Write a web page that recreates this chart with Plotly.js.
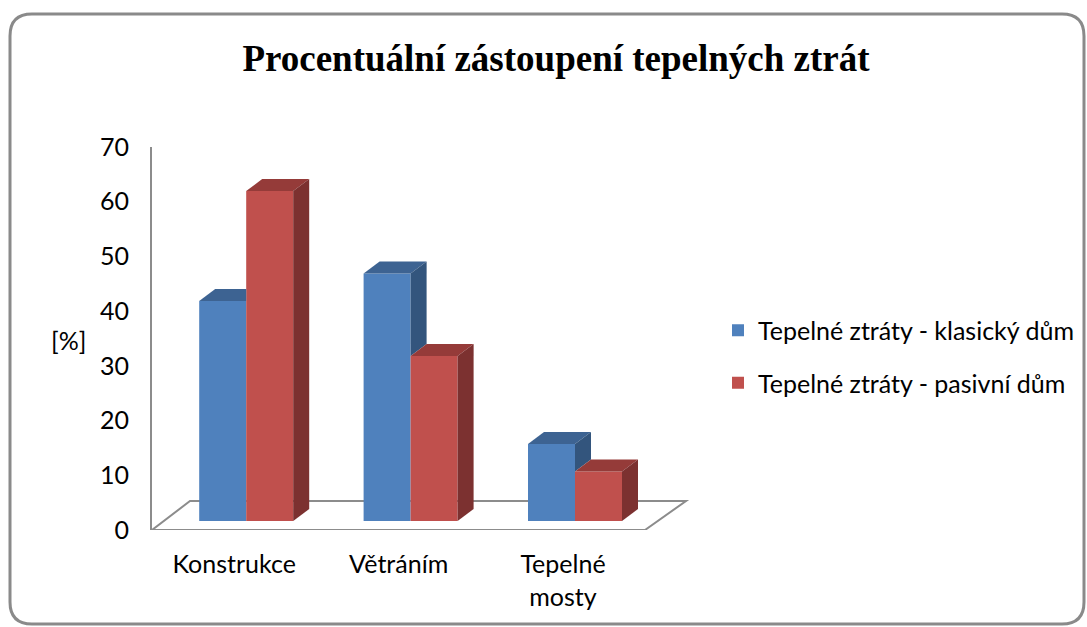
<!DOCTYPE html>
<html>
<head>
<meta charset="utf-8">
<script src="https://cdn.plot.ly/plotly-3.0.1.min.js"></script>
<style>
  html, body { margin: 0; padding: 0; background: #ffffff; }
  #chart { width: 1087px; height: 627px; }
</style>
</head>
<body>
<div id="chart"></div>
<script>
// ---- Data ----
const categories = ["Konstrukce", "Větráním", "Tepelné mosty"];
const tickLabels = ["Konstrukce", "Větráním", "Tepelné<br>mosty"];
const seriesNames = ["Tepelné ztráty - klasický dům", "Tepelné ztráty - pasivní dům"];
const klasicky = [40, 45, 14];
const pasivni = [60, 30, 9];
const yTicks = [0, 10, 20, 30, 40, 50, 60, 70];
const yTitle = "[%]";
const chartTitle = "Procentuální zástoupení tepelných ztrát";

// ---- Style / geometry ----
const W = 1087, H = 627;
const M = { l: 152, r: 387, t: 147, b: 97 };
const plotW = W - M.l - M.r;          // 548
const plotH = H - M.t - M.b;          // 383
const catPx = 164.4;                  // pixels per category
const xSpan = plotW / catPx;
const barPxScale = 5.5;               // px per unit for bars (front plane)
const bar0Px = 9;                     // bars' base sits 9px above axis bottom
const groupW = 94 / catPx;
const barW = groupW / 2;
const DX = 16 / catPx;                // depth offset in x units
const DY = 12 / barPxScale;           // depth offset in y2 units
const barOffsetPx = 12;               // perspective shift of bars vs labels

const frontColors = ["#4F81BD", "#C0504D"];
const topColors = ["#3D6392", "#953B39"];
const sideColors = ["#33557D", "#7C3130"];
const fontFam = "Lato, 'Open Sans', sans-serif";

const series = [klasicky, pasivni];
const idx = categories.map((c, i) => i);

const traces = [];
series.forEach((vals, j) => {
  traces.push({
    type: "bar",
    name: seriesNames[j],
    x: idx,
    y: vals,
    xaxis: "x2",
    yaxis: "y2",
    legendgroup: "g" + j,
    marker: { color: frontColors[j], line: { width: 0 } },
    hovertext: categories,
    hoverinfo: "text+y+name"
  });
});

// 3D faces computed from the values
function poly(pts, color) {
  traces.push({
    type: "scatter", mode: "lines",
    x: pts.map(p => p[0]).concat([pts[0][0]]),
    y: pts.map(p => p[1]).concat([pts[0][1]]),
    xaxis: "x2", yaxis: "y2",
    fill: "toself", fillcolor: color,
    line: { width: 0, color: color },
    hoverinfo: "skip", showlegend: false
  });
}
series.forEach((vals, j) => {
  vals.forEach((v, i) => {
    const cover = j + 1 < series.length ? series[j + 1][i] : null;
    const xl = i - groupW / 2 + j * barW;
    const xr = xl + barW;
    if (cover !== null && cover >= v + DY) {
      poly([[xl, v], [xr, v], [xr, v + DY], [xl + DX, v + DY]], topColors[j]);
    } else {
      poly([[xl, v], [xr, v], [xr + DX, v + DY], [xl + DX, v + DY]], topColors[j]);
    }
    const base = cover === null ? 0 : Math.max(cover, 0);
    if (v > base) {
      poly([[xr, base], [xr, v], [xr + DX, v + DY], [xr + DX, base + DY]], sideColors[j]);
    }
  });
});

// pixel -> axis helpers for decoration
const xUnit = px => -0.5 + (px - M.l) / catPx;
const yUnit = py => (M.t + plotH - py) / (plotH / 70);
const px2paperX = px => (px - M.l) / plotW;
const py2paperY = py => (M.t + plotH - py) / plotH;

const floorPath = "M" + xUnit(152) + "," + yUnit(530) +
  " L" + xUnit(645) + "," + yUnit(530) +
  " L" + xUnit(686) + "," + yUnit(501) +
  " L" + xUnit(190) + "," + yUnit(501) + " Z";

const fx0 = 10, fx1 = 1084, fy0 = 14, fy1 = 624, rad = 22;
const PX = px2paperX, PY = py2paperY;
const framePath =
  "M" + PX(fx0 + rad) + "," + PY(fy0) +
  " L" + PX(fx1 - rad) + "," + PY(fy0) +
  " Q" + PX(fx1) + "," + PY(fy0) + " " + PX(fx1) + "," + PY(fy0 + rad) +
  " L" + PX(fx1) + "," + PY(fy1 - rad) +
  " Q" + PX(fx1) + "," + PY(fy1) + " " + PX(fx1 - rad) + "," + PY(fy1) +
  " L" + PX(fx0 + rad) + "," + PY(fy1) +
  " Q" + PX(fx0) + "," + PY(fy1) + " " + PX(fx0) + "," + PY(fy1 - rad) +
  " L" + PX(fx0) + "," + PY(fy0 + rad) +
  " Q" + PX(fx0) + "," + PY(fy0) + " " + PX(fx0 + rad) + "," + PY(fy0) + " Z";

const r0 = -(catPx * 0.5 + barOffsetPx) / catPx;

const layout = {
  width: W, height: H, autosize: false,
  margin: Object.assign({ autoexpand: false }, M),
  paper_bgcolor: "#ffffff",
  plot_bgcolor: "rgba(0,0,0,0)",
  font: { family: fontFam, size: 25, color: "#000000" },
  title: {
    text: chartTitle,
    font: { family: "'Liberation Serif', 'Times New Roman', serif", size: 37, color: "#000000", weight: "bold" },
    x: 556 / W, xref: "container", xanchor: "center",
    y: 1 - 58 / H, yref: "container", yanchor: "middle"
  },
  barmode: "group",
  bargap: 1 - groupW,
  bargroupgap: 0,
  xaxis: {
    type: "linear",
    range: [-0.5, -0.5 + xSpan],
    tickmode: "array",
    tickvals: idx,
    ticktext: tickLabels,
    showgrid: false, zeroline: false, showline: false,
    ticks: "",
    tickfont: { family: fontFam, size: 25, color: "#000000" },
    ticklabelstandoff: 17,
    fixedrange: true
  },
  yaxis: {
    range: [0, 70],
    tickmode: "array",
    tickvals: yTicks,
    showgrid: false, zeroline: false,
    showline: true, linecolor: "#8C8C8C", linewidth: 2,
    ticks: "",
    tickfont: { family: fontFam, size: 25, color: "#000000" },
    ticklabelstandoff: 16,
    fixedrange: true
  },
  xaxis2: {
    overlaying: "x", type: "linear",
    range: [r0, r0 + xSpan],
    visible: false, fixedrange: true
  },
  yaxis2: {
    overlaying: "y",
    range: [-bar0Px / barPxScale, (plotH - bar0Px) / barPxScale],
    visible: false, fixedrange: true
  },
  showlegend: true,
  legend: {
    xref: "container", yref: "container",
    x: 718 / W, xanchor: "left",
    y: 1 - 356.5 / H, yanchor: "middle",
    font: { family: fontFam, size: 25, color: "#000000" },
    traceorder: "grouped",
    tracegroupgap: 17,
    bgcolor: "rgba(0,0,0,0)",
    borderwidth: 0
  },
  annotations: [{
    text: yTitle, xref: "paper", yref: "paper",
    x: px2paperX(68), y: py2paperY(340),
    xanchor: "center", yanchor: "middle", showarrow: false,
    font: { family: fontFam, size: 25, color: "#000000" }
  }],
  shapes: [
    { type: "path", xref: "x", yref: "y", path: floorPath, layer: "below",
      line: { color: "#8C8C8C", width: 2 }, fillcolor: "#ffffff" },
    { type: "path", xref: "paper", yref: "paper", path: framePath, layer: "above",
      line: { color: "#8A8A8A", width: 3 }, fillcolor: "rgba(0,0,0,0)" }
  ]
};

Plotly.newPlot("chart", traces, layout, { displayModeBar: false, staticPlot: true });
</script>
</body>
</html>
